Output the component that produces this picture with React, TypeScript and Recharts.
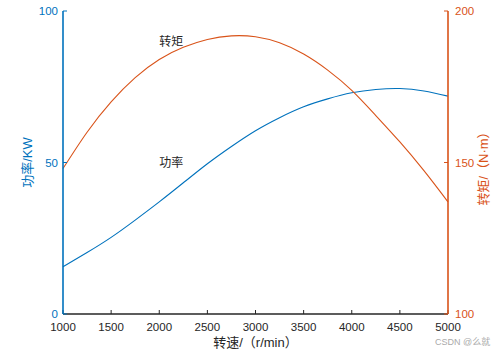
import { Line, LineChart, ReferenceDot, XAxis, YAxis } from "recharts";

// speed samples (r/min)
const rpm = [
  1000, 1250, 1500, 1750, 2000, 2250, 2500, 2750, 3000, 3250, 3500, 3750, 4000,
  4250, 4500, 4750, 5000,
];

// power, kW (left axis)
const powerKw = [
  15.6, 20.3, 25.3, 31.0, 37.0, 43.3, 49.6, 55.3, 60.5, 64.8, 68.4, 71.0, 73.0,
  74.1, 74.4, 73.6, 71.9,
];

// torque, N·m (right axis)
const torqueNm = [
  148.0, 160.0, 170.0, 178.0, 184.0, 188.0, 190.6, 191.8, 191.5, 189.5, 185.8,
  180.5, 173.8, 165.5, 156.8, 147.3, 137.0,
];

const rpmTicks = [1000, 1500, 2000, 2500, 3000, 3500, 4000, 4500, 5000];
const powerTicks = [0, 50, 100];
const torqueTicks = [100, 150, 200];

const BLUE = "#0072BD";
const ORANGE = "#D95319";
const INK = "#262626";
const FONT = "'Liberation Sans', 'Noto Sans CJK SC', sans-serif";

export default function App() {
  const data = rpm.map((r, i) => ({
    rpm: r,
    power: powerKw[i],
    torque: torqueNm[i],
  }));

  return (
    <div
      style={{
        position: "absolute",
        left: 0,
        top: 0,
        width: 500,
        height: 354,
        background: "#fff",
        fontFamily: FONT,
      }}
    >
      <LineChart
        width={500}
        height={354}
        data={data}
        margin={{ top: 11, right: 0, bottom: 0, left: 0 }}
      >
        {/* top frame with inward ticks */}
        <XAxis
          xAxisId="top"
          orientation="top"
          type="number"
          dataKey="rpm"
          domain={[1000, 5000]}
          ticks={rpmTicks}
          height={0}
          tickSize={-4}
          tickFormatter={() => ""}
          stroke={INK}
          axisLine={{ stroke: INK, strokeWidth: 1.3 }}
        />
        <XAxis
          type="number"
          dataKey="rpm"
          domain={[1000, 5000]}
          ticks={rpmTicks}
          height={40}
          tickSize={-4}
          tickMargin={13}
          stroke={INK}
          axisLine={{ stroke: INK, strokeWidth: 1.3 }}
          tick={{ fill: INK, fontSize: 11.5 }}
          label={{
            value: "转速/（r/min）",
            position: "insideBottom",
            offset: 7,
            fill: INK,
            fontSize: 13,
          }}
        />
        <YAxis
          yAxisId="left"
          domain={[0, 100]}
          ticks={powerTicks}
          width={63}
          tickSize={-4}
          tickMargin={9}
          stroke={BLUE}
          axisLine={{ stroke: BLUE, strokeWidth: 1.6 }}
          tick={{ fill: BLUE, fontSize: 11.5 }}
          label={{
            value: "功率/KW",
            angle: -90,
            position: "center",
            dx: -4,
            fill: BLUE,
            fontSize: 13,
          }}
        />
        <YAxis
          yAxisId="right"
          orientation="right"
          domain={[100, 200]}
          ticks={torqueTicks}
          width={52}
          tickSize={-4}
          tickMargin={11}
          stroke={ORANGE}
          axisLine={{ stroke: ORANGE, strokeWidth: 1.6 }}
          tick={{ fill: ORANGE, fontSize: 11.5 }}
          label={{
            value: "转矩/（N·m）",
            angle: -90,
            position: "center",
            dx: 9,
            dy: 3,
            fill: ORANGE,
            fontSize: 13,
          }}
        />
        <Line
          yAxisId="left"
          type="natural"
          dataKey="power"
          stroke={BLUE}
          strokeWidth={1.1}
          dot={false}
          isAnimationActive={false}
        />
        <Line
          yAxisId="right"
          type="natural"
          dataKey="torque"
          stroke={ORANGE}
          strokeWidth={1.1}
          dot={false}
          isAnimationActive={false}
        />
        {/* in-plot text labels */}
        <ReferenceDot
          yAxisId="left"
          x={2000}
          y={50}
          r={0}
          fill="none"
          stroke="none"
          label={{ value: "功率", position: "right", offset: 0, fill: INK, fontSize: 12 }}
        />
        <ReferenceDot
          yAxisId="right"
          x={2000}
          y={190}
          r={0}
          fill="none"
          stroke="none"
          label={{ value: "转矩", position: "right", offset: 0, fill: INK, fontSize: 12 }}
        />
      </LineChart>
      <div
        style={{
          position: "absolute",
          left: 435,
          top: 335,
          fontSize: 9,
          color: "#aaa",
          whiteSpace: "nowrap",
        }}
      >
        CSDN @么就
      </div>
    </div>
  );
}
